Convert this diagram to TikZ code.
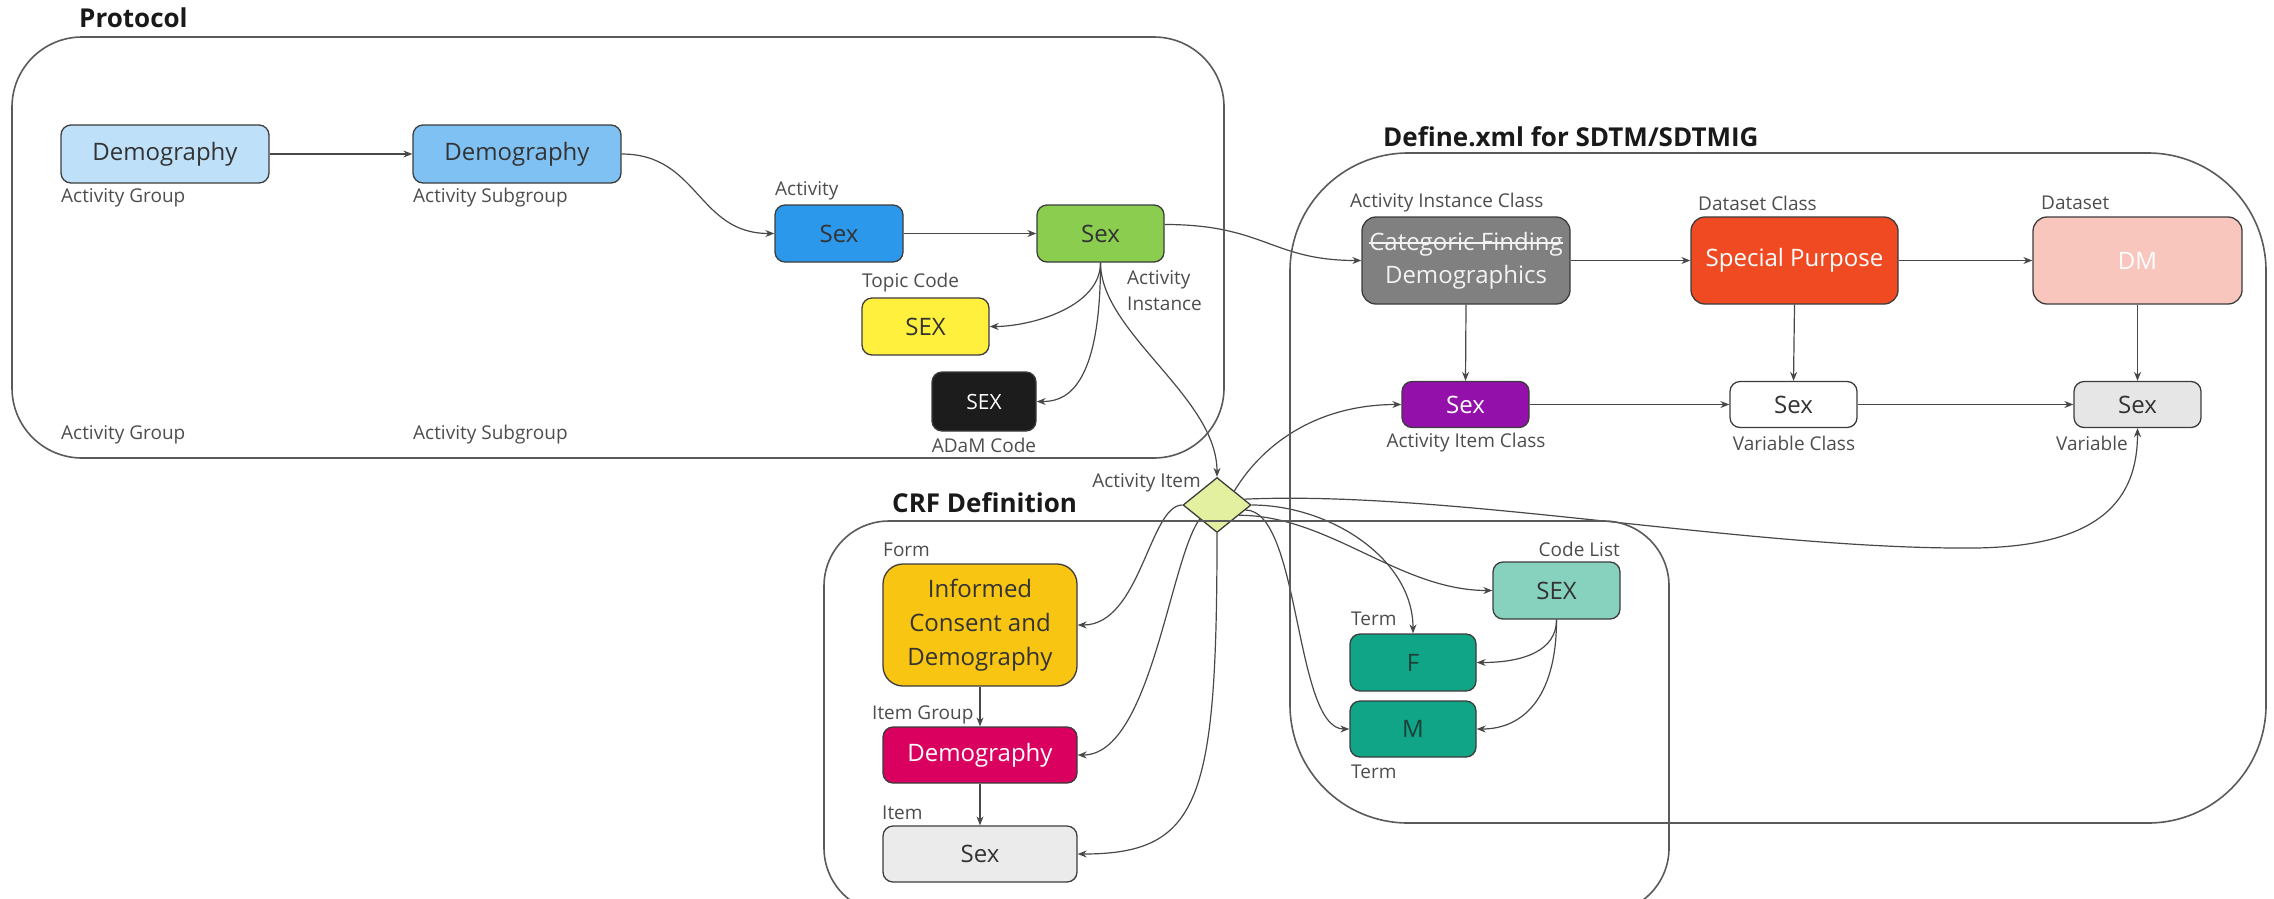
\documentclass[tikz,border=0pt]{standalone}
\usepackage{fontspec}
\setmainfont{Open Sans}
\usetikzlibrary{arrows.meta,shapes.geometric}

% palette
\definecolor{boxline}{HTML}{3C3C3C}
\definecolor{connline}{HTML}{484848}
\definecolor{frameline}{HTML}{5A5A5A}
\definecolor{lblgray}{HTML}{4D4D4D}
\definecolor{txtdark}{HTML}{333333}
\definecolor{cDemoA}{HTML}{BEE0F8}
\definecolor{cDemoB}{HTML}{80C1F3}
\definecolor{cAct}{HTML}{2B98EB}
\definecolor{cInst}{HTML}{8BCD4E}
\definecolor{cTopic}{HTML}{FFF03E}
\definecolor{cAdam}{HTML}{1C1C1C}
\definecolor{cAic}{HTML}{808080}
\definecolor{cDsc}{HTML}{F04A23}
\definecolor{cDm}{HTML}{F9C6BD}
\definecolor{cAitc}{HTML}{9410AA}
\definecolor{cVar}{HTML}{E6E6E6}
\definecolor{cDia}{HTML}{E3F0A0}
\definecolor{cForm}{HTML}{F8C512}
\definecolor{cIgrp}{HTML}{DA005F}
\definecolor{cItem}{HTML}{EBEBEB}
\definecolor{cCode}{HTML}{87D1BF}
\definecolor{cTerm}{HTML}{0FA586}
\definecolor{txtTerm}{HTML}{1E3F37}

\newcommand\nodefnt{\fontsize{24}{33}\selectfont}
\newcommand\labelfnt{\fontsize{19}{26}\selectfont}
\newcommand\titlefnt{\fontsize{26}{30}\selectfont\bfseries}

% struck-through text: a rule laid across the box of the words
\newsavebox\strkbox
\newcommand\strk[1]{\sbox\strkbox{#1}\leavevmode\rlap{\raisebox{0.27em}{\rule{\wd\strkbox}{1.3pt}}}\usebox\strkbox}

\begin{document}
\begin{tikzpicture}[x=1pt,y=-1pt,
  box/.style={draw=boxline, line width=1.3pt, rounded corners=10pt, inner sep=0pt,
    align=center, font=\nodefnt, text=txtdark},
  lbl/.style={inner sep=0pt, font=\labelfnt, text=lblgray, align=left},
  ttl/.style={inner sep=0pt, font=\titlefnt, text=black!90, anchor=west},
  conn/.style={draw=connline, line width=1.2pt, -{Stealth[length=9pt,width=7pt]}},
  frame/.style={draw=frameline, line width=1.6pt}]
\useasboundingbox (0,0) rectangle (2274,898);

% ---- Protocol ----
\node[ttl] (tProt) at (79,18) {Protocol};
\node[box, fill=cDemoA, minimum width=208pt, minimum height=58pt] (demoA) at (165,154) {Demography};
\node[box, fill=cDemoB, minimum width=208pt, minimum height=58pt] (demoB) at (517,154) {Demography};
\node[box, fill=cAct, minimum width=128pt, minimum height=57pt] (act) at (839,233.5) {Sex};
\node[box, fill=cInst, minimum width=127pt, minimum height=57pt] (inst) at (1100.5,233.5) {Sex};
\node[box, fill=cTopic, minimum width=127pt, minimum height=57pt] (topic) at (925.5,326.5) {SEX};
\node[box, fill=cAdam, text=white, font=\fontsize{21}{24}\selectfont, minimum width=104pt, minimum height=59pt] (adam) at (984,401.5) {SEX};

\node[lbl, anchor=west] (lGrp) at (61,198) {Activity Group};
\node[lbl, anchor=west] (lSub) at (413,198) {Activity Subgroup};
\node[lbl, anchor=west] (lGrp2) at (61,435) {Activity Group};
\node[lbl, anchor=west] (lSub2) at (413,435) {Activity Subgroup};
\node[lbl, anchor=west] (lAct) at (775,191) {Activity};
\node[lbl, anchor=west] (lTopic) at (862,283) {Topic Code};
\node[lbl, anchor=west] (lInst) at (1127,291) {Activity\\Instance};
\node[lbl] (lAdam) at (984,445) {ADaM Code};

% ---- Define.xml ----
\node[ttl] (tDef) at (1383,137) {Define.xml for SDTM/SDTMIG};
\node[box, fill=cAic, text=white!95!black, rounded corners=14pt, minimum width=208pt, minimum height=87pt] (aic) at (1466,260.5) {\strk{Categoric Finding}\\Demographics};
\node[box, fill=cDsc, text=white, rounded corners=14pt, minimum width=207pt, minimum height=87pt] (dsc) at (1794.5,260.5) {Special Purpose};
\node[box, fill=cDm, text=white, rounded corners=14pt, minimum width=209pt, minimum height=87pt] (dm) at (2137.5,260.5) {DM};
\node[box, fill=cAitc, text=white, minimum width=127pt, minimum height=46pt] (aitc) at (1465.5,404.5) {Sex};
\node[box, fill=white, minimum width=127pt, minimum height=46pt] (varc) at (1793.5,404.5) {Sex};
\node[box, fill=cVar, minimum width=127pt, minimum height=46pt] (var) at (2137.5,404.5) {Sex};

\node[lbl, anchor=west] (lAic) at (1350,203) {Activity Instance Class};
\node[lbl, anchor=west] (lDsc) at (1698,203) {Dataset Class};
\node[lbl, anchor=west] (lDm) at (2041,203) {Dataset};
\node[lbl] (lAitc) at (1466,443) {Activity Item Class};
\node[lbl] (lVarc) at (1794,443) {Variable Class};
\node[lbl, anchor=east] (lVar) at (2128,443) {Variable};

% ---- Activity Item ----
\node[diamond, draw=boxline, line width=1.3pt, fill=cDia, inner sep=0pt,
  minimum width=68pt, minimum height=55pt] (dia) at (1217,505) {};
\node[lbl, anchor=east] (lDia) at (1201,483) {Activity Item};

% ---- CRF Definition ----
\node[ttl] (tCrf) at (892,503) {CRF Definition};
\node[box, fill=cForm, rounded corners=20pt, font=\fontsize{24}{34}\selectfont, minimum width=194pt, minimum height=122pt] (form) at (980,625) {Informed\\Consent and\\Demography};
\node[box, fill=cIgrp, text=white, minimum width=194pt, minimum height=56pt] (igrp) at (980,755) {Demography};
\node[box, fill=cItem, minimum width=194pt, minimum height=56pt] (item) at (980,854) {Sex};
\node[box, fill=cCode, minimum width=127pt, minimum height=57pt] (code) at (1556.5,590.5) {SEX};
\node[box, fill=cTerm, text=txtTerm, minimum width=126pt, minimum height=57pt] (tF) at (1413,662.5) {F};
\node[box, fill=cTerm, text=txtTerm, minimum width=126pt, minimum height=56pt] (tM) at (1413,729) {M};

\node[lbl, anchor=west] (lForm) at (883,550) {Form};
\node[lbl, anchor=west] (lIgrp) at (872,715) {Item Group};
\node[lbl, anchor=west] (lItem) at (882,813) {Item};
\node[lbl, anchor=east] (lCode) at (1620,549) {Code List};
\node[lbl, anchor=west] (lF) at (1351,619) {Term};
\node[lbl, anchor=west] (lM) at (1351,772) {Term};

% ---- connectors: protocol ----
\draw[conn] (demoA.east) -- (demoB.west);
\draw[conn] (demoB.east) .. controls +(77,0) and +(-77,0) .. (act.west);
\draw[conn] (act.east) -- (inst.west);
\draw[conn] (inst.south) .. controls +(0,45) and +(40,0) .. (topic.east);
\draw[conn] (inst.south) .. controls +(0,132) and +(25,0) .. (adam.east);
\draw[conn] (inst.south) .. controls +(0,70) and +(0,-80) .. (dia.north);
\draw[conn] (inst.8) .. controls +(100,0) and +(-90,0) .. (aic.west);

% ---- connectors: define.xml ----
\draw[conn] (aic.east) -- (dsc.west);
\draw[conn] (dsc.east) -- (dm.west);
\draw[conn] (aic.south) -- (aitc.north);
\draw[conn] (dsc.south) -- (varc.north);
\draw[conn] (dm.south) -- (var.north);
\draw[conn] (aitc.east) -- (varc.west);
\draw[conn] (varc.east) -- (var.west);

% ---- connectors: activity item ----
\draw[conn] (dia.north east) .. controls +(31,-51) and +(-80,0) .. (aitc.west);
\draw[conn] (dia.12) .. controls (1450,490) and (1750,550) .. (1976,548)
  .. controls (2100,546) and (2137.5,500) .. (var.south);
\draw[conn] (dia.west) .. controls +(-33,0) and +(63,0) .. (form.east);
\draw[conn] (dia.south west) .. controls +(-30,41) and +(73,0) .. (igrp.east);
\draw[conn] (dia.south) .. controls +(0,267) and +(123,0) .. (item.east);
\draw[conn] (dia.-25) .. controls +(90,0) and +(-93,0) .. (code.west);
\draw[conn] (dia.east) .. controls +(79,0) and +(0,-74) .. (tF.north);
\draw[conn] (dia.-10) .. controls +(55,0) and +(-55,0) .. (tM.west);

% ---- connectors: CRF ----
\draw[conn] (form.south) -- (igrp.north);
\draw[conn] (igrp.south) -- (item.north);
\draw[conn] (code.south) .. controls +(0,31) and +(47,0) .. (tF.east);
\draw[conn] (code.south) .. controls +(0,81) and +(44,0) .. (tM.east);

% ---- group frames ----
\draw[frame, rounded corners=70pt] (12,37) rectangle (1224,458);
\draw[frame, rounded corners=118pt] (1290,153) rectangle (2266,823);
\draw[frame, rounded corners=65pt] (824,521) rectangle (1669,913);
\end{tikzpicture}
\end{document}
